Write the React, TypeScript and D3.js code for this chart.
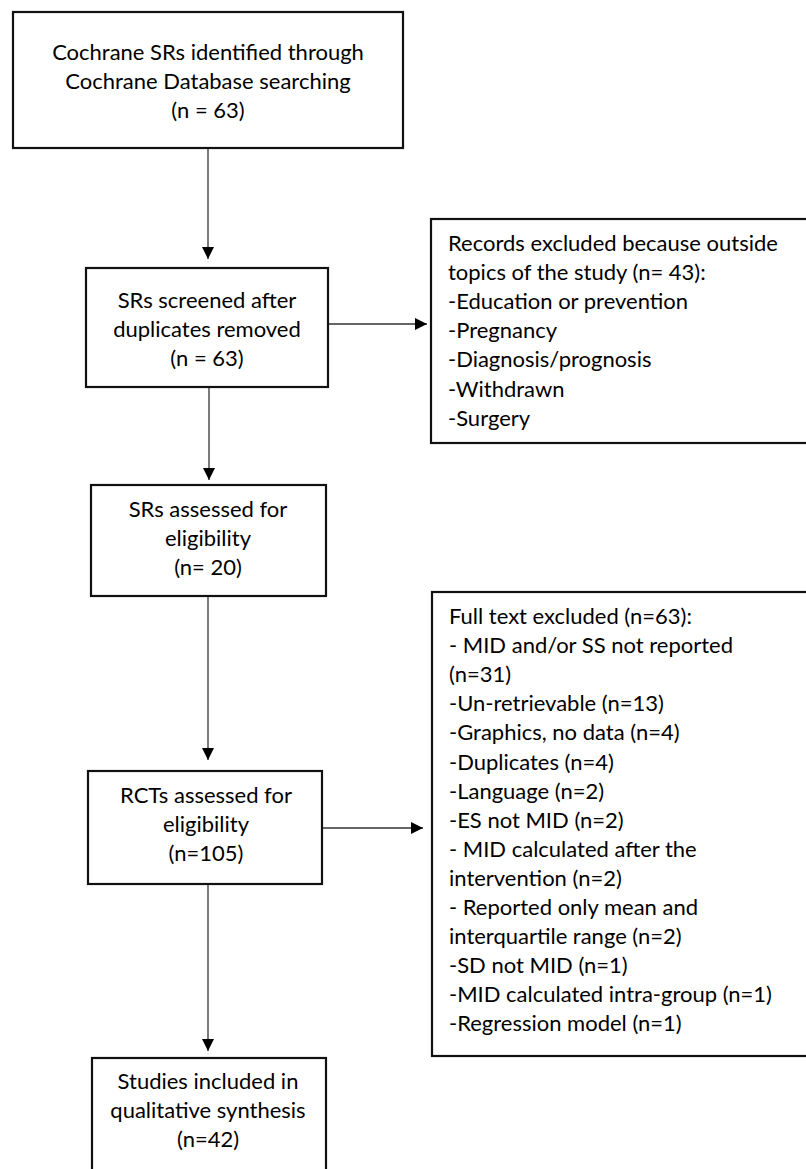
import React, { useEffect, useRef } from "react";
import * as d3 from "d3";

// ---- content (text of each node) ----
const identifiedLines = ["Cochrane SRs identified through", "Cochrane Database searching", "(n = 63)"];
const screenedLines = ["SRs screened after", "duplicates removed", "(n = 63)"];
const srsAssessedLines = ["SRs assessed for", "eligibility", "(n= 20)"];
const rctsAssessedLines = ["RCTs assessed for", "eligibility", "(n=105)"];
const includedLines = ["Studies included in", "qualitative synthesis", "(n=42)"];
const recordsExcludedLines = [
  "Records excluded because outside",
  "topics of the study (n= 43):",
  "-Education or prevention",
  "-Pregnancy",
  "-Diagnosis/prognosis",
  "-Withdrawn",
  "-Surgery",
];
const fullTextExcludedLines = [
  "Full text excluded (n=63):",
  "- MID and/or SS not reported",
  "(n=31)",
  "-Un-retrievable (n=13)",
  "-Graphics, no data (n=4)",
  "-Duplicates (n=4)",
  "-Language (n=2)",
  "-ES not MID (n=2)",
  "- MID calculated after the",
  "intervention (n=2)",
  "- Reported only mean and",
  "interquartile range (n=2)",
  "-SD not MID (n=1)",
  "-MID calculated intra-group (n=1)",
  "-Regression model (n=1)",
];

type Box = {
  id: string;
  lines: string[];
  x0: number; y0: number; x1: number; y1: number;
  align: "middle" | "start";
  tx: number; ty: number;
};

const boxes: Box[] = [
  { id: "identified", lines: identifiedLines, x0: 13, y0: 12, x1: 403, y1: 148, align: "middle", tx: 208, ty: 60 },
  { id: "screened", lines: screenedLines, x0: 86, y0: 268, x1: 328, y1: 387, align: "middle", tx: 207, ty: 308 },
  { id: "srs", lines: srsAssessedLines, x0: 91, y0: 485, x1: 326, y1: 596, align: "middle", tx: 208, ty: 517 },
  { id: "rcts", lines: rctsAssessedLines, x0: 88, y0: 771, x1: 322, y1: 884, align: "middle", tx: 206, ty: 803 },
  { id: "included", lines: includedLines, x0: 92, y0: 1058, x1: 326, y1: 1190, align: "middle", tx: 208, ty: 1089 },
  { id: "records", lines: recordsExcludedLines, x0: 431, y0: 219, x1: 820, y1: 443, align: "start", tx: 448, ty: 251 },
  { id: "fulltext", lines: fullTextExcludedLines, x0: 432, y0: 592, x1: 820, y1: 1056, align: "start", tx: 449, ty: 624 },
];

const arrows = [
  { x1: 208, y1: 148, x2: 208, y2: 259 },
  { x1: 209, y1: 387, x2: 209, y2: 480 },
  { x1: 208, y1: 596, x2: 208, y2: 760 },
  { x1: 208, y1: 884, x2: 208, y2: 1051 },
  { x1: 328, y1: 324, x2: 427, y2: 324 },
  { x1: 322, y1: 828, x2: 423, y2: 828 },
];

const W = 806;
const H = 1169;
const LINE_H = 29.1;
const FONT = "Lato, 'Open Sans', sans-serif";

export default function App() {
  const ref = useRef<SVGSVGElement | null>(null);

  useEffect(() => {
    const svg = d3.select(ref.current);
    svg.selectAll("*").remove();

    // measure to match target width of reference string
    const probe = svg.append("text").attr("font-family", FONT).attr("font-size", 20).text(recordsExcludedLines[0]);
    const w = (probe.node() as SVGTextElement).getComputedTextLength() || 330;
    probe.remove();
    const fs = (20 * 330) / w;

    svg.append("rect").attr("width", W).attr("height", H).attr("fill", "#fff");

    const defs = svg.append("defs");
    defs
      .append("marker")
      .attr("id", "ah")
      .attr("viewBox", "0 0 12 12")
      .attr("refX", 12)
      .attr("refY", 6)
      .attr("markerWidth", 12)
      .attr("markerHeight", 12)
      .attr("markerUnits", "userSpaceOnUse")
      .attr("orient", "auto")
      .append("path")
      .attr("d", "M0,0 L12,6 L0,12 Z")
      .attr("fill", "#000");

    const line = d3.line<[number, number]>();

    svg
      .append("g")
      .selectAll("path")
      .data(arrows)
      .join("path")
      .attr("d", (a) => line([[a.x1, a.y1], [a.x2, a.y2]]))
      .attr("stroke", "#333")
      .attr("stroke-width", 1.3)
      .attr("fill", "none")
      .attr("marker-end", "url(#ah)");

    const g = svg.append("g").selectAll("g").data(boxes).join("g");
    g.append("rect")
      .attr("x", (b) => b.x0)
      .attr("y", (b) => b.y0)
      .attr("width", (b) => b.x1 - b.x0)
      .attr("height", (b) => b.y1 - b.y0)
      .attr("fill", "#fff")
      .attr("stroke", "#111")
      .attr("stroke-width", 2.2);

    g.each(function (b) {
      const t = d3
        .select(this)
        .append("text")
        .attr("font-family", FONT)
        .attr("font-size", fs)
        .attr("fill", "#000")
        .attr("text-anchor", b.align);
      t.selectAll("tspan")
        .data(b.lines)
        .join("tspan")
        .attr("x", b.tx)
        .attr("y", (_, i) => b.ty + i * LINE_H)
        .text((d) => d);
    });
  }, []);

  return (
    <svg
      ref={ref}
      width={W}
      height={H}
      style={{ position: "absolute", left: 0, top: 0, display: "block" }}
    />
  );
}
